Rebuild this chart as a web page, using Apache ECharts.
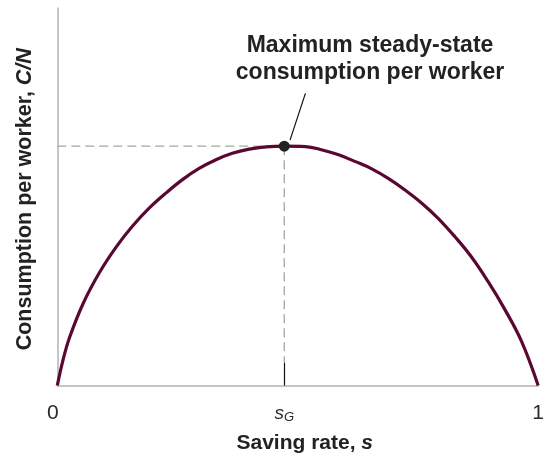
<!DOCTYPE html>
<html>
<head>
<meta charset="utf-8">
<script src="https://cdn.jsdelivr.net/npm/echarts@6/dist/echarts.min.js"></script>
<style>html,body{margin:0;padding:0;background:#fff}#c{width:547px;height:459px}</style>
</head>
<body>
<div id="c"></div>
<script>
// Saving rate s (x) and steady-state consumption per worker C/N (y, relative units)
const savingRate = [0, 0.012, 0.026, 0.054, 0.088, 0.123, 0.157, 0.192, 0.227, 0.261, 0.295, 0.330, 0.364, 0.399, 0.434, 0.472, 0.516, 0.551, 0.585, 0.620, 0.654, 0.689, 0.723, 0.758, 0.792, 0.827, 0.861, 0.896, 0.930, 0.965, 1.0];
const consumption = [0, 0.068, 0.129, 0.218, 0.300, 0.368, 0.423, 0.471, 0.511, 0.546, 0.575, 0.598, 0.615, 0.626, 0.632, 0.634, 0.633, 0.624, 0.611, 0.593, 0.574, 0.548, 0.518, 0.483, 0.443, 0.394, 0.341, 0.275, 0.203, 0.118, 0];
const goldenS = 0.472;          // s_G
const goldenC = 0.634;          // maximum steady-state consumption
const tickTop = 0.062;          // where the dashed guide turns into the solid s_G tick
const leader = [[0.484, 0.650], [0.516, 0.774]];
const xTickValues = [0, goldenS, 1];
const xTickLabels = ['0', '{s|s}{g|G}', '1'];
const titleLines = ['Maximum steady-state', 'consumption per worker'];

const chart = echarts.init(document.getElementById('c'), null, {renderer: 'canvas'});
const curve = savingRate.map((s, i) => [s, consumption[i]]);
const dashStyle = {color: '#a5a5a5', width: 1.3, type: [9, 5]};

chart.setOption({
  animation: false,
  grid: {left: 57.3, right: 6.7, top: 8, bottom: 73.5},
  xAxis: {
    type: 'value', min: 0, max: 1,
    axisLine: {show: true, lineStyle: {color: '#b3b3b3', width: 1.5}},
    splitLine: {show: false},
    axisTick: {show: true, customValues: [goldenS], inside: true, length: 23, lineStyle: {color: '#111', width: 1.2}},
    axisLabel: {
      customValues: xTickValues,
      margin: 17,
      formatter: v => {
        const i = xTickValues.findIndex(t => Math.abs(t - v) < 1e-6);
        return i === 1 ? xTickLabels[1] : (i === 0 ? '{z|' + xTickLabels[0] + '}' : '{o|' + xTickLabels[2] + '}');
      },
      rich: {
        z: {fontFamily: 'Liberation Sans', fontSize: 21, color: '#2a2a2a', padding: [0, 9, 0, 0]},
        o: {fontFamily: 'Liberation Sans', fontSize: 21, color: '#2a2a2a', padding: [0, 0, 0, 0]},
        s: {fontFamily: 'Liberation Sans', fontStyle: 'italic', fontSize: 19, color: '#2a2a2a', verticalAlign: 'bottom'},
        g: {fontFamily: 'Liberation Sans', fontStyle: 'italic', fontSize: 13, color: '#2a2a2a', padding: [8, 0, 0, 0], verticalAlign: 'top'}
      }
    },
    name: '{b|Saving rate, }{i|s}',
    nameLocation: 'middle',
    nameGap: 47,
    nameTextStyle: {
      padding: [0, 0, 0, 14],
      rich: {
        b: {fontFamily: 'Liberation Sans', fontWeight: 'bold', fontSize: 21, color: '#222'},
        i: {fontFamily: 'Liberation Sans', fontWeight: 'bold', fontStyle: 'italic', fontSize: 21, color: '#222'}
      }
    }
  },
  yAxis: {
    type: 'value', min: 0, max: 1,
    axisLine: {show: true, lineStyle: {color: '#b3b3b3', width: 1.5}},
    axisTick: {show: false},
    axisLabel: {show: false},
    splitLine: {show: false},
    name: '{b|Consumption per worker, }{i|C/N}',
    nameLocation: 'middle',
    nameRotate: 90,
    nameGap: 21,
    nameTextStyle: {
      padding: [0, 5, 0, 0],
      rich: {
        b: {fontFamily: 'Liberation Sans', fontWeight: 'bold', fontSize: 21.5, color: '#222'},
        i: {fontFamily: 'Liberation Sans', fontWeight: 'bold', fontStyle: 'italic', fontSize: 21.5, color: '#222'}
      }
    }
  },
  series: [
    {type: 'line', data: [[0, goldenC], [goldenS, goldenC]], symbol: 'none', lineStyle: dashStyle, z: 1, silent: true},
    {type: 'line', data: [[goldenS, goldenC], [goldenS, tickTop]], symbol: 'none', lineStyle: dashStyle, z: 1, silent: true},
    {type: 'line', data: curve, smooth: 0.4, symbol: 'none', lineStyle: {color: '#5a0832', width: 3.2}, z: 3, silent: true},
    {type: 'line', data: leader, symbol: 'none', lineStyle: {color: '#111', width: 1.2}, z: 4, silent: true},
    {type: 'scatter', data: [[goldenS, goldenC]], symbolSize: 11, itemStyle: {color: '#222', opacity: 1}, z: 5, silent: true}
  ],
  graphic: [
    {type: 'text', style: {text: titleLines[0], x: 370, y: 46, align: 'center', verticalAlign: 'middle', font: 'bold 23px "Liberation Sans"', fill: '#222'}},
    {type: 'text', style: {text: titleLines[1], x: 370, y: 73, align: 'center', verticalAlign: 'middle', font: 'bold 23px "Liberation Sans"', fill: '#222'}}
  ]
});
</script>
</body>
</html>
